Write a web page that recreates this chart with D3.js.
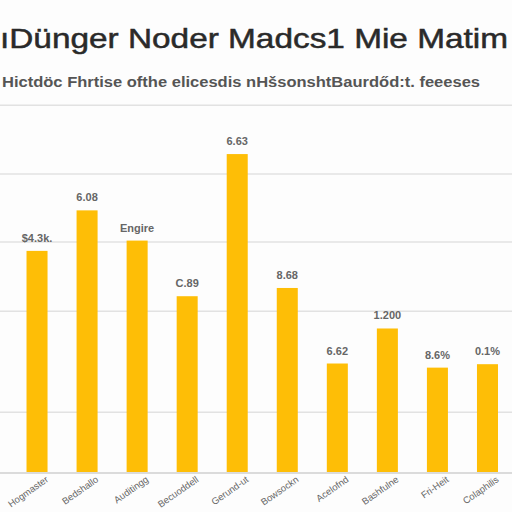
<!DOCTYPE html>
<html>
<head>
<meta charset="utf-8">
<script src="https://cdn.jsdelivr.net/npm/d3@7"></script>
<style>
  body { margin: 0; background: #fdfdfd; }
  svg { display: block; }
</style>
</head>
<body>
<div id="chart"></div>
<script>
// chart data
var categories = ["Hogmaster", "Bedshallo", "Auditingg", "Becuoddell", "Gerund-ut",
                  "Bowsockn", "Acelofnd", "Bashfulne", "Fri-Heit", "Colaphilis"];
var values = [32.2, 38.1, 33.7, 25.6, 46.3, 26.8, 15.8, 20.9, 15.2, 15.7];
var valueLabels = ["$4.3k.", "6.08", "Engire", "C.89", "6.63", "8.68", "6.62", "1.200", "8.6%", "0.1%"];
var gridValues = [8.7, 23.4, 33.5, 43.4, 53.4];
var titleText = "ıDünger Noder Madcs1 Mie Matim";
var subtitleText = "Hictdöc Fhrtise  ofthe elicesdis nHšsonshtBaurdőd:t. feeeses";

var W = 512, H = 512;

var svg = d3.select("#chart")
        .append("svg")
        .attr("width", W)
        .attr("height", H)
        .style("background-color", "#fdfdfd");

var x = d3.scaleBand()
        .domain(categories)
        .range([12, 512.5])
        .paddingInner(0.58)
        .paddingOuter(0.29);

var y = d3.scaleLinear()
        .domain([0, 60])
        .range([472, 60]);

// gridlines
svg.append("g")
        .selectAll("line")
        .data(gridValues)
        .enter()
        .append("line")
        .attr("x1", 0)
        .attr("x2", W)
        .attr("y1", d => y(d))
        .attr("y2", d => y(d))
        .style("stroke", "#e2e2e2")
        .style("stroke-width", "1.6px");

// baseline
svg.append("line")
        .attr("x1", 0).attr("x2", W)
        .attr("y1", y(0) + 1).attr("y2", y(0) + 1)
        .style("stroke", "#cfcfcf")
        .style("stroke-width", "1.5px");

// bars
svg.append("g")
        .selectAll("rect")
        .data(values)
        .enter()
        .append("rect")
        .attr("x", (d, i) => x(categories[i]))
        .attr("width", x.bandwidth())
        .attr("y", d => y(d))
        .attr("height", d => y(0) - y(d))
        .attr("fill", "#febe06");

// value labels above bars
svg.append("g")
        .selectAll("text")
        .data(values)
        .enter()
        .append("text")
        .attr("x", (d, i) => x(categories[i]) + x.bandwidth() / 2)
        .attr("y", d => y(d) - 9)
        .attr("text-anchor", "middle")
        .style("font-family", "Liberation Sans, Arial, sans-serif")
        .style("font-size", "11px")
        .style("font-weight", "bold")
        .style("fill", "#666")
        .text((d, i) => valueLabels[i]);

// category labels, rotated
svg.append("g")
        .selectAll("text")
        .data(categories)
        .enter()
        .append("text")
        .attr("transform", d => "translate(" + (x(d) + x.bandwidth() / 2 + 12) + ",481) rotate(-35)")
        .attr("text-anchor", "end")
        .style("font-family", "Liberation Sans, Arial, sans-serif")
        .style("font-size", "9.5px")
        .style("fill", "#666")
        .text(d => d);

// title + subtitle
svg.append("text")
        .attr("x", 0)
        .attr("y", 48)
        .attr("textLength", 508)
        .attr("lengthAdjust", "spacingAndGlyphs")
        .style("font-family", "Liberation Sans, Arial, sans-serif")
        .style("font-size", "28px")
        .style("fill", "#2a2a2a")
        .style("stroke", "#2a2a2a")
        .style("stroke-width", "0.5px")
        .text(titleText);

svg.append("text")
        .attr("x", 2)
        .attr("y", 87)
        .attr("textLength", 478)
        .attr("lengthAdjust", "spacingAndGlyphs")
        .style("font-family", "Liberation Sans, Arial, sans-serif")
        .style("font-size", "14px")
        .style("font-weight", "bold")
        .style("fill", "#555")
        .text(subtitleText);
</script>
</body>
</html>
